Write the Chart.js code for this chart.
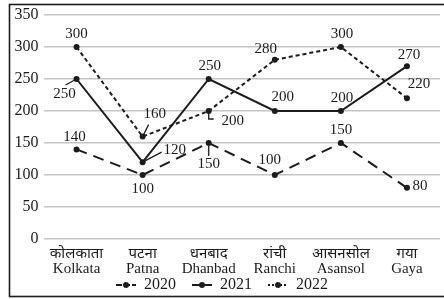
<!DOCTYPE html>
<html>
<head>
<meta charset="utf-8">
<script src="https://cdn.jsdelivr.net/npm/chart.js@4.4.1/dist/chart.umd.min.js"></script>
<style>
  html, body { margin: 0; padding: 0; background: #fff; }
</style>
</head>
<body>
<canvas id="chart" width="444" height="299"></canvas>
<script>
// city names (Hindi + English) and yearly values
const hindiNames = ["कोलकाता", "पटना", "धनबाद", "रांची", "आसनसोल", "गया"];
const cityNames = ["Kolkata", "Patna", "Dhanbad", "Ranchi", "Asansol", "Gaya"];
const years = ["2020", "2021", "2022"];
const values2020 = [140, 100, 150, 100, 150, 80];
const values2021 = [250, 120, 250, 200, 200, 270];
const values2022 = [300, 160, 200, 280, 300, 220];
const yMin = 0;
const yMax = 350;
const yStep = 50;

const ink = "#1c1c1c";
const serif = "'Liberation Serif', 'Noto Sans', serif";

// dash pattern for each year (chart lines, then legend markers)
const dashes = [[11, 7], [], [4, 3]];
const legendDashes = [[6, 2], [], [2, 2]];

// small line + dot picture used as legend marker (8px blank on its left)
function legendSymbol(dash) {
  const c = document.createElement("canvas");
  c.width = 28;
  c.height = 8;
  const g = c.getContext("2d");
  g.strokeStyle = ink;
  g.lineWidth = 2;
  g.setLineDash(dash);
  g.beginPath();
  g.moveTo(8, 4);
  g.lineTo(28, 4);
  g.stroke();
  g.fillStyle = ink;
  g.beginPath();
  g.arc(18, 4, 3, 0, Math.PI * 2);
  g.fill();
  return c;
}
const symbols = legendDashes.map(legendSymbol);

// where each value label sits relative to its point, and leader lines
const labelOffsets = [
  [[-2, -12], [0, 14], [0, 21], [-5, -15], [0, -13], [13, -2]],
  [[-12, 15], [32, -12], [1, -13], [8, -14], [1, -13], [2, -11]],
  [[0, -13], [12, -23], [24, 10], [-9, -11], [1, -13], [12, -14]]
];
const leaders = [
  [null, null, [[0, 3], [0, 13]], null, null, null],
  [[[0, 0], [-11, 6]], [[0, 0], [19, -10]], null, null, null, null],
  [null, [[0, 0], [6, -12]], [[0, 2], [0, 8], [5, 8]], null, null, null]
];

const valueLabels = {
  id: "valueLabels",
  afterDatasetsDraw(chart) {
    const ctx = chart.ctx;
    ctx.save();
    ctx.font = "15px " + serif;
    ctx.fillStyle = ink;
    ctx.strokeStyle = ink;
    ctx.lineWidth = 1.3;
    ctx.textAlign = "center";
    ctx.textBaseline = "middle";
    chart.data.datasets.forEach((ds, i) => {
      const meta = chart.getDatasetMeta(i);
      meta.data.forEach((pt, j) => {
        const off = labelOffsets[i][j];
        const lead = leaders[i][j];
        if (lead) {
          ctx.beginPath();
          lead.forEach((p, k) => {
            if (k === 0) ctx.moveTo(pt.x + p[0], pt.y + p[1]);
            else ctx.lineTo(pt.x + p[0], pt.y + p[1]);
          });
          ctx.stroke();
        }
        ctx.fillText(String(ds.data[j]), pt.x + off[0], pt.y + off[1]);
      });
    });
    ctx.restore();
  }
};

// thin frame round the figure
const frame = {
  id: "frame",
  afterDraw(chart) {
    const ctx = chart.ctx;
    ctx.save();
    ctx.strokeStyle = ink;
    ctx.lineWidth = 1.6;
    ctx.strokeRect(9.5, 4.5, 444, 292);
    ctx.restore();
  }
};

function makeDataset(label, data, dash) {
  return {
    label: label,
    data: data,
    borderColor: ink,
    backgroundColor: ink,
    borderWidth: 2,
    borderDash: dash,
    pointRadius: 3,
    pointBackgroundColor: ink,
    pointBorderWidth: 0,
    tension: 0,
    fill: false
  };
}

const chart = new Chart(document.getElementById("chart"), {
  type: "line",
  data: {
    labels: hindiNames.map((h, i) => [h, cityNames[i]]),
    datasets: [
      makeDataset(years[0], values2020, dashes[0]),
      makeDataset(years[1], values2021, dashes[1]),
      makeDataset(years[2], values2022, dashes[2])
    ]
  },
  options: {
    responsive: false,
    animation: false,
    layout: {
      padding: { left: 0, top: 15, right: 0, bottom: -4 }
    },
    scales: {
      x: {
        offset: true,
        grid: { display: false, drawTicks: false },
        border: { display: false },
        afterFit: (scale) => { scale.height = 38; },
        ticks: {
          color: ink,
          padding: 8,
          maxRotation: 0,
          autoSkip: false,
          font: { family: serif, size: 15, lineHeight: 1.0 }
        }
      },
      y: {
        min: yMin,
        max: yMax,
        grid: { color: "#c4c4c4", lineWidth: 1.5, drawTicks: false },
        border: { display: false },
        afterFit: (scale) => { scale.width = 43.5; },
        ticks: {
          stepSize: yStep,
          color: ink,
          padding: 5,
          font: { family: serif, size: 16 }
        }
      }
    },
    plugins: {
      tooltip: { enabled: false },
      legend: {
        position: "bottom",
        labels: {
          color: ink,
          usePointStyle: true,
          pointStyleWidth: 28,
          padding: 0,
          font: { family: serif, size: 16 },
          generateLabels: (c) => {
            const items = Chart.defaults.plugins.legend.labels.generateLabels(c);
            items.forEach((it, k) => {
              it.pointStyle = symbols[k];
              it.text = it.text + "\u2002";
            });
            return items;
          }
        }
      }
    }
  },
  plugins: [valueLabels, frame]
});
</script>
</body>
</html>
